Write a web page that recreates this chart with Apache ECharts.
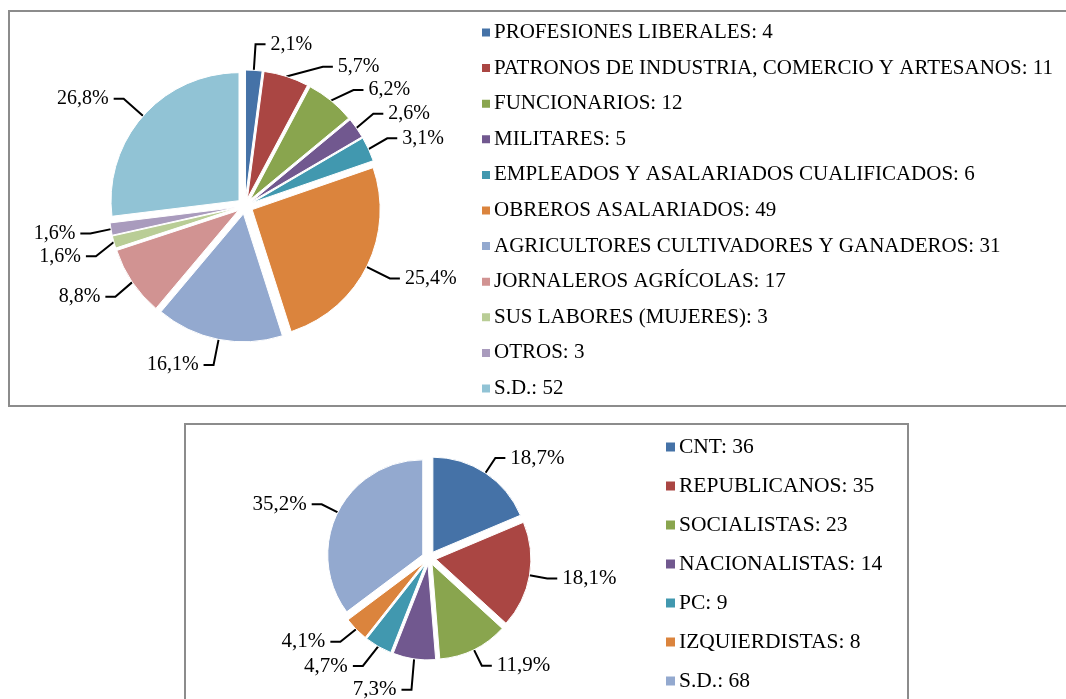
<!DOCTYPE html>
<html>
<head>
<meta charset="utf-8">
<script src="https://cdn.jsdelivr.net/npm/echarts@6/dist/echarts.min.js"></script>
<style>
  html, body { margin: 0; padding: 0; width: 1066px; height: 699px; overflow: hidden; background: #fff; }
  .box { position: absolute; border: 2px solid #8c8c8c; box-sizing: border-box; background: #fff; }
  #topBox { left: 8px; top: 10px; width: 1100px; height: 397px; }
  #bottomBox { left: 184px; top: 423px; width: 725px; height: 300px; }
  .chart { width: 100%; height: 100%; }
</style>
</head>
<body>
<div id="topBox" class="box"><div id="topChart" class="chart"></div></div>
<div id="bottomBox" class="box"><div id="bottomChart" class="chart"></div></div>
<script>
// profesiones
const topNames = [
  'PROFESIONES LIBERALES',
  'PATRONOS DE INDUSTRIA, COMERCIO Y ARTESANOS',
  'FUNCIONARIOS',
  'MILITARES',
  'EMPLEADOS Y ASALARIADOS CUALIFICADOS',
  'OBREROS ASALARIADOS',
  'AGRICULTORES CULTIVADORES Y GANADEROS',
  'JORNALEROS AGRÍCOLAS',
  'SUS LABORES (MUJERES)',
  'OTROS',
  'S.D.'
]
const topValues = [4, 11, 12, 5, 6, 49, 31, 17, 3, 3, 52]
const topLabels = ['2,1%', '5,7%', '6,2%', '2,6%', '3,1%', '25,4%', '16,1%', '8,8%', '1,6%', '1,6%', '26,8%']

// afiliacion politica
const bottomNames = ['CNT', 'REPUBLICANOS', 'SOCIALISTAS', 'NACIONALISTAS', 'PC', 'IZQUIERDISTAS', 'S.D.']
const bottomValues = [36, 35, 23, 14, 9, 8, 68]
const bottomLabels = ['18,7%', '18,1%', '11,9%', '7,3%', '4,7%', '4,1%', '35,2%']

const palette = ['#4572A7', '#AA4643', '#89A54E', '#71588F', '#4198AF', '#DB843D',
  '#93A9CF', '#D19392', '#B9CD96', '#A99BBD', '#91C3D5']
const bottomPalette = ['#4572A7', '#AA4643', '#89A54E', '#71588F', '#4198AF', '#DB843D', '#93A9CF']

const serif = '"Liberation Serif", "Times New Roman", serif'

const buildOption = (names, values, labels, colors, cfg) => {
  const data = names.map((name, i) => ({ name, value: values[i], selected: true }))
  return {
    animation: false,
    color: colors,
    legend: {
      orient: 'vertical',
      left: cfg.legendLeft,
      top: cfg.legendTop,
      padding: 0,
      icon: 'rect',
      itemWidth: cfg.icon,
      itemHeight: cfg.icon,
      itemGap: cfg.itemGap,
      selectedMode: false,
      formatter: (name) => `${name}: ${values[names.indexOf(name)]}`,
      textStyle: {
        fontFamily: serif,
        fontSize: cfg.legendFont,
        lineHeight: cfg.lineHeight,
        color: '#000',
        padding: [0, 0, 0, -2],
      },
    },
    series: [
      {
        type: 'pie',
        center: cfg.center,
        radius: cfg.radius,
        startAngle: 90,
        clockwise: true,
        selectedMode: 'multiple',
        selectedOffset: cfg.offset,
        avoidLabelOverlap: true,
        data,
        itemStyle: { borderColor: '#fff', borderWidth: 1 },
        emphasis: { disabled: true },
        select: { itemStyle: { borderColor: '#fff', borderWidth: 1 } },
        label: {
          show: true,
          position: 'outside',
          formatter: (p) => labels[p.dataIndex],
          fontFamily: serif,
          fontSize: cfg.fontSize,
          color: '#000',
        },
        labelLine: {
          show: true,
          length: cfg.len1,
          length2: cfg.len2,
          lineStyle: { color: '#000', width: 2 },
        },
      },
    ],
  }
}

const topChart = echarts.init(document.getElementById('topChart'))
topChart.setOption(buildOption(topNames, topValues, topLabels, palette, {
  center: [235, 194],
  radius: 128,
  offset: 8,
  legendLeft: 470,
  legendTop: 10,
  icon: 10,
  itemGap: 14.6,
  legendFont: 21,
  fontSize: 20,
  lineHeight: 21,
  len1: 26,
  len2: 10,
}))

const bottomChart = echarts.init(document.getElementById('bottomChart'))
bottomChart.setOption(buildOption(bottomNames, bottomValues, bottomLabels, bottomPalette, {
  center: [243, 133],
  radius: 95,
  offset: 7,
  legendLeft: 478,
  legendTop: 11,
  icon: 11,
  itemGap: 17,
  legendFont: 21.5,
  fontSize: 21,
  lineHeight: 21.5,
  len1: 18,
  len2: 10,
}))
</script>
</body>
</html>
